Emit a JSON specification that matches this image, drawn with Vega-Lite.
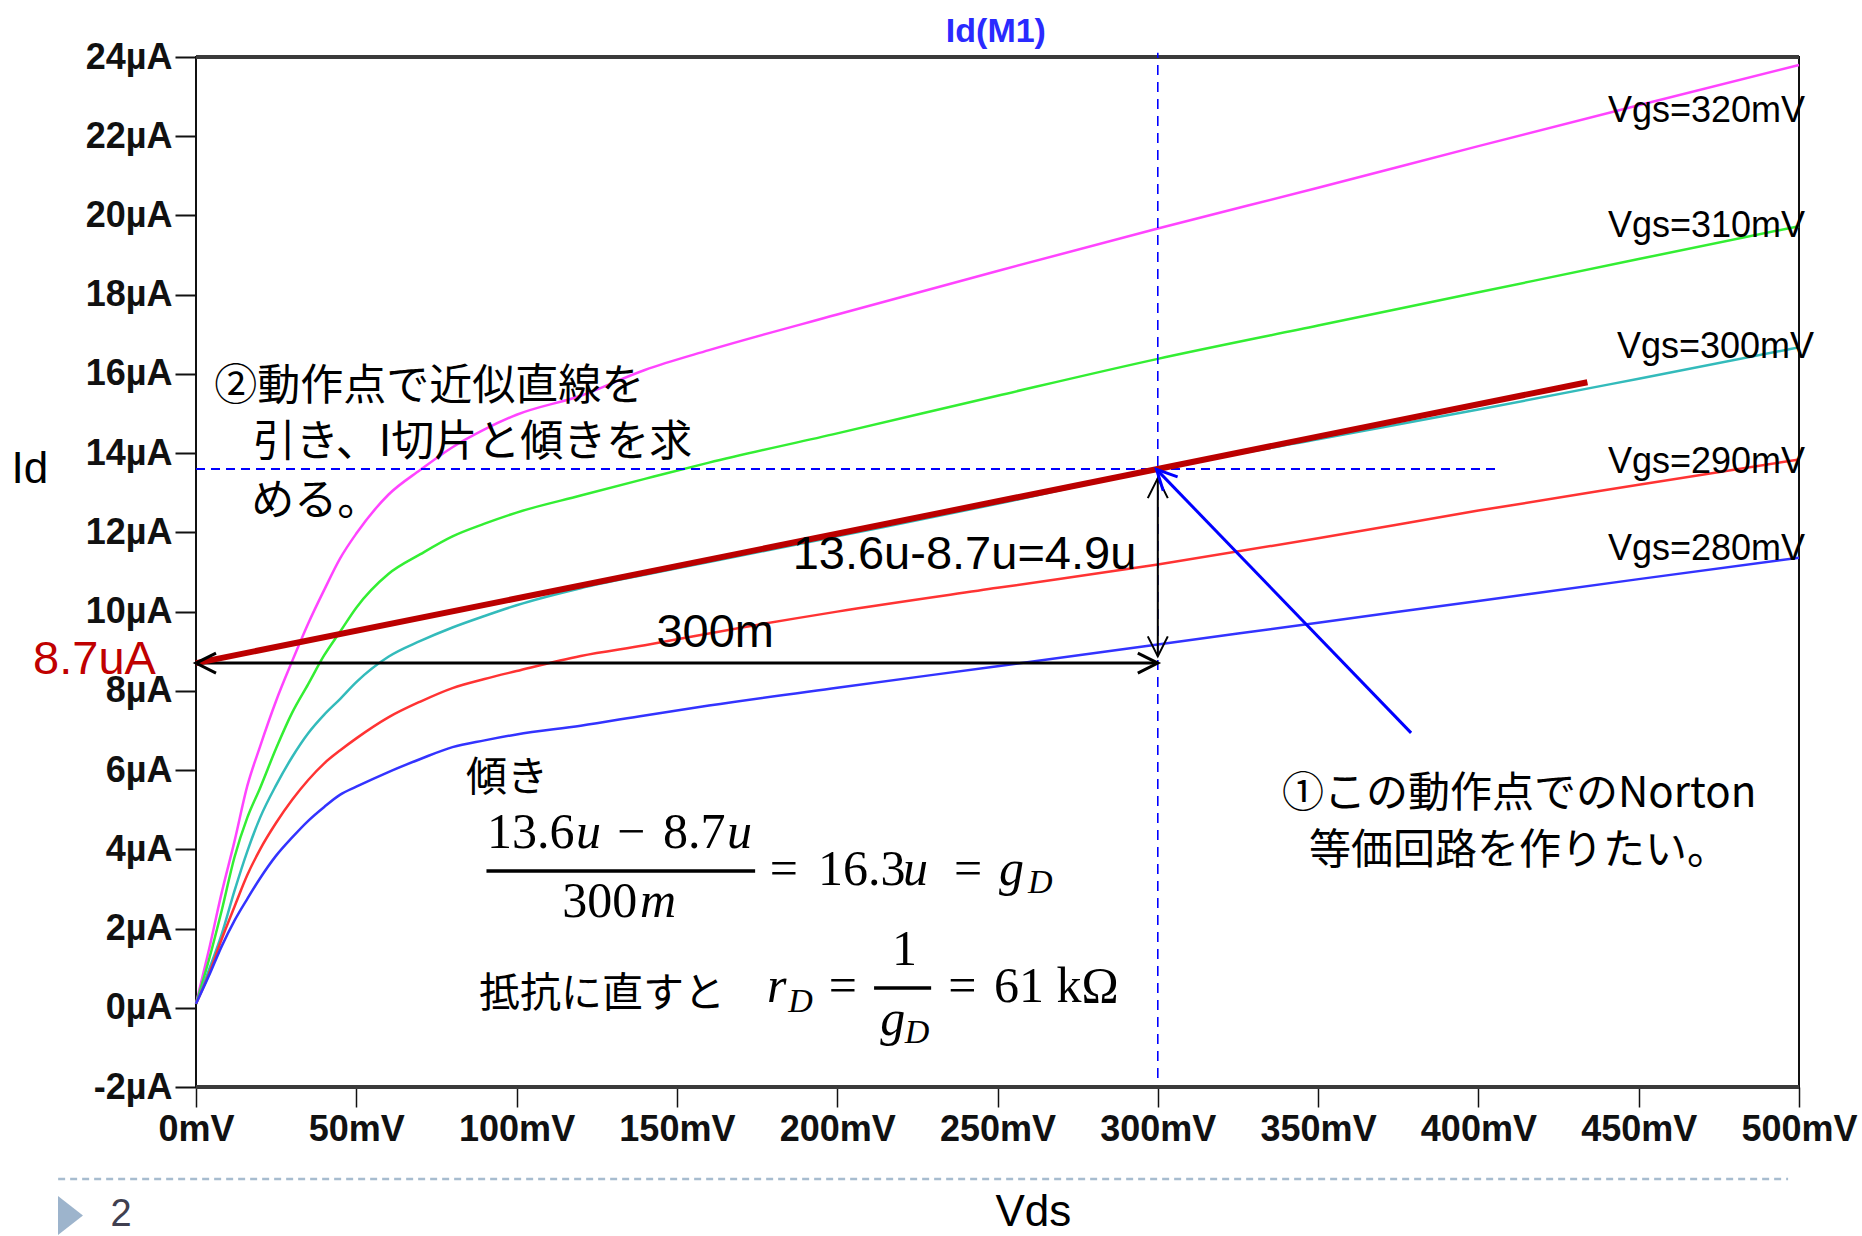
{
"$schema": "https://vega.github.io/schema/vega-lite/v6.json",
"width": 1603,
"height": 1030,
"autosize": {"type": "none"},
"padding": {"left": 196, "top": 57, "right": 63, "bottom": 149},
"background": "#ffffff",
"config": {
 "view": {"stroke": "#111111", "strokeWidth": 2},
 "axisX": {"grid": false, "domain": false, "tickSize": 20, "tickWidth": 1.5, "tickColor": "#111111", "labelFont": "Liberation Sans", "labelFontSize": 36, "labelFontWeight": "bold", "labelColor": "#111111", "labelPadding": 5, "labelFlush": false, "labelOverlap": false, "labelBound": false},
 "axisY": {"grid": false, "domain": false, "tickSize": 21, "tickWidth": 2, "tickColor": "#111111", "labelFont": "Liberation Sans", "labelFontSize": 36, "labelFontWeight": "bold", "labelColor": "#111111", "labelPadding": 3, "labelFlush": false, "labelOverlap": false, "labelBound": false}
},
"datasets": {
"curves": [
{"vgs":"320","vds":0,"id":0.1},{"vgs":"320","vds":4,"id":1.45},{"vgs":"320","vds":8,"id":2.9},{"vgs":"320","vds":12,"id":4.2},{"vgs":"320","vds":16,"id":5.6},{"vgs":"320","vds":20,"id":6.6},{"vgs":"320","vds":25,"id":7.75},{"vgs":"320","vds":30,"id":8.75},{"vgs":"320","vds":35,"id":9.7},{"vgs":"320","vds":40,"id":10.55},{"vgs":"320","vds":45,"id":11.35},{"vgs":"320","vds":50,"id":11.97},{"vgs":"320","vds":60,"id":12.95},{"vgs":"320","vds":70,"id":13.58},{"vgs":"320","vds":80,"id":14.15},{"vgs":"320","vds":90,"id":14.6},{"vgs":"320","vds":100,"id":14.97},{"vgs":"320","vds":120,"id":15.45},{"vgs":"320","vds":140,"id":16.1},{"vgs":"320","vds":160,"id":16.6},{"vgs":"320","vds":200,"id":17.5},{"vgs":"320","vds":250,"id":18.6},{"vgs":"320","vds":300,"id":19.67},{"vgs":"320","vds":350,"id":20.7},{"vgs":"320","vds":400,"id":21.75},{"vgs":"320","vds":450,"id":22.78},{"vgs":"320","vds":500,"id":23.8},
{"vgs":"310","vds":0,"id":0.1},{"vgs":"310","vds":4,"id":1.2},{"vgs":"310","vds":8,"id":2.45},{"vgs":"310","vds":12,"id":3.8},{"vgs":"310","vds":16,"id":4.8},{"vgs":"310","vds":20,"id":5.55},{"vgs":"310","vds":25,"id":6.55},{"vgs":"310","vds":30,"id":7.45},{"vgs":"310","vds":35,"id":8.17},{"vgs":"310","vds":40,"id":8.9},{"vgs":"310","vds":45,"id":9.5},{"vgs":"310","vds":50,"id":10.1},{"vgs":"310","vds":60,"id":10.95},{"vgs":"310","vds":70,"id":11.45},{"vgs":"310","vds":80,"id":11.9},{"vgs":"310","vds":90,"id":12.22},{"vgs":"310","vds":100,"id":12.5},{"vgs":"310","vds":120,"id":12.93},{"vgs":"310","vds":140,"id":13.35},{"vgs":"310","vds":160,"id":13.76},{"vgs":"310","vds":200,"id":14.5},{"vgs":"310","vds":250,"id":15.45},{"vgs":"310","vds":300,"id":16.38},{"vgs":"310","vds":350,"id":17.22},{"vgs":"310","vds":400,"id":18.06},{"vgs":"310","vds":450,"id":18.9},{"vgs":"310","vds":500,"id":19.73},
{"vgs":"300","vds":0,"id":0.1},{"vgs":"300","vds":4,"id":0.95},{"vgs":"300","vds":8,"id":1.85},{"vgs":"300","vds":12,"id":2.95},{"vgs":"300","vds":16,"id":3.95},{"vgs":"300","vds":20,"id":4.8},{"vgs":"300","vds":25,"id":5.62},{"vgs":"300","vds":30,"id":6.33},{"vgs":"300","vds":35,"id":6.93},{"vgs":"300","vds":40,"id":7.4},{"vgs":"300","vds":45,"id":7.8},{"vgs":"300","vds":50,"id":8.22},{"vgs":"300","vds":60,"id":8.86},{"vgs":"300","vds":70,"id":9.26},{"vgs":"300","vds":80,"id":9.6},{"vgs":"300","vds":90,"id":9.89},{"vgs":"300","vds":100,"id":10.16},{"vgs":"300","vds":120,"id":10.59},{"vgs":"300","vds":140,"id":10.93},{"vgs":"300","vds":160,"id":11.25},{"vgs":"300","vds":200,"id":11.9},{"vgs":"300","vds":250,"id":12.72},{"vgs":"300","vds":300,"id":13.6},{"vgs":"300","vds":350,"id":14.35},{"vgs":"300","vds":400,"id":15.1},{"vgs":"300","vds":450,"id":15.88},{"vgs":"300","vds":500,"id":16.67},
{"vgs":"290","vds":0,"id":0.1},{"vgs":"290","vds":4,"id":0.85},{"vgs":"290","vds":8,"id":1.73},{"vgs":"290","vds":12,"id":2.55},{"vgs":"290","vds":16,"id":3.35},{"vgs":"290","vds":20,"id":4.0},{"vgs":"290","vds":25,"id":4.67},{"vgs":"290","vds":30,"id":5.25},{"vgs":"290","vds":35,"id":5.75},{"vgs":"290","vds":40,"id":6.17},{"vgs":"290","vds":45,"id":6.5},{"vgs":"290","vds":50,"id":6.8},{"vgs":"290","vds":60,"id":7.33},{"vgs":"290","vds":70,"id":7.73},{"vgs":"290","vds":80,"id":8.07},{"vgs":"290","vds":90,"id":8.3},{"vgs":"290","vds":100,"id":8.5},{"vgs":"290","vds":120,"id":8.88},{"vgs":"290","vds":140,"id":9.15},{"vgs":"290","vds":160,"id":9.45},{"vgs":"290","vds":200,"id":10.0},{"vgs":"290","vds":250,"id":10.6},{"vgs":"290","vds":300,"id":11.19},{"vgs":"290","vds":350,"id":11.85},{"vgs":"290","vds":400,"id":12.55},{"vgs":"290","vds":450,"id":13.2},{"vgs":"290","vds":500,"id":13.84},
{"vgs":"280","vds":0,"id":0.1},{"vgs":"280","vds":4,"id":0.8},{"vgs":"280","vds":8,"id":1.55},{"vgs":"280","vds":12,"id":2.2},{"vgs":"280","vds":16,"id":2.75},{"vgs":"280","vds":20,"id":3.27},{"vgs":"280","vds":25,"id":3.84},{"vgs":"280","vds":30,"id":4.3},{"vgs":"280","vds":35,"id":4.72},{"vgs":"280","vds":40,"id":5.07},{"vgs":"280","vds":45,"id":5.38},{"vgs":"280","vds":50,"id":5.58},{"vgs":"280","vds":60,"id":5.95},{"vgs":"280","vds":70,"id":6.28},{"vgs":"280","vds":80,"id":6.58},{"vgs":"280","vds":90,"id":6.75},{"vgs":"280","vds":100,"id":6.9},{"vgs":"280","vds":120,"id":7.12},{"vgs":"280","vds":140,"id":7.38},{"vgs":"280","vds":160,"id":7.63},{"vgs":"280","vds":200,"id":8.08},{"vgs":"280","vds":250,"id":8.62},{"vgs":"280","vds":300,"id":9.17},{"vgs":"280","vds":350,"id":9.72},{"vgs":"280","vds":400,"id":10.27},{"vgs":"280","vds":450,"id":10.82},{"vgs":"280","vds":500,"id":11.36}
],
"frame": [{"id": 24}, {"id": -2}],
"vdash": [{"vds": 300, "id": -1.77, "id2": 24.11}],
"hdash": [{"vds": 0, "vds2": 405.8, "id": 13.6}],
"tangent": [{"vds": 0, "id": 8.7, "vds2": 434, "id2": 15.79}],
"harrow": [{"vds": 0, "vds2": 300, "id": 8.7}],
"varrow": [{"vds": 300, "id": 8.87, "id2": 13.37}],
"barrow": [{"vds": 379, "id": 6.94, "vds2": 299.6, "id2": 13.59}],
"headL": [{"vds": 0, "id": 8.7}],
"headR": [{"vds": 300, "id": 8.7}],
"headU": [{"vds": 300, "id": 13.37}],
"headD": [{"vds": 300, "id": 8.87}],
"headB": [{"vds": 299.6, "id": 13.59}],
"vgsLabels": [
{"vds": 440.4, "id": 22.63, "label": "Vgs=320mV"},
{"vds": 440.4, "id": 19.73, "label": "Vgs=310mV"},
{"vds": 443.2, "id": 16.67, "label": "Vgs=300mV"},
{"vds": 440.4, "id": 13.78, "label": "Vgs=290mV"},
{"vds": 440.4, "id": 11.57, "label": "Vgs=280mV"}
],
"bigText": [
{"vds": 186.1, "id": 11.42, "label": "13.6u-8.7u=4.9u"},
{"vds": 143.6, "id": 9.46, "label": "300m"}
],
"redText": [{"vds": -12.5, "id": 8.78, "label": "8.7uA"}],
"axisTitles": [
{"vds": -51.8, "id": 13.58, "label": "Id"},
{"vds": 261.2, "id": -5.19, "label": "Vds"}
],
"plotTitle": [{"vds": 249.5, "id": 24.64, "label": "Id(M1)"}],
"jp43": [
{"vds": 5.7, "id": 15.67, "label": "②動作点で近似直線を"},
{"vds": 17.7, "id": 14.25, "label": "引き、I切片と傾きを求"},
{"vds": 17.2, "id": 12.76, "label": "める。"}
],
"jp41": [
{"vds": 84.2, "id": 5.77, "label": "傾き"},
{"vds": 88.3, "id": 0.32, "label": "抵抗に直すと"}
],
"jpCenter": [
{"vds": 412.7, "id": 5.39, "label": "①この動作点でのNorton"},
{"vds": 412.7, "id": 3.96, "label": "等価回路を作りたい。"}
],
"mathN": [
{"vds": 90.8, "id": 4.04, "label": "13.6"},
{"vds": 131.3, "id": 4.04, "label": "−"},
{"vds": 145.7, "id": 4.04, "label": "8.7"},
{"vds": 114.2, "id": 2.3, "label": "300"},
{"vds": 179.0, "id": 3.11, "label": "="},
{"vds": 194.0, "id": 3.11, "label": "16.3"},
{"vds": 236.4, "id": 3.11, "label": "="},
{"vds": 197.4, "id": 0.15, "label": "="},
{"vds": 217.1, "id": 1.09, "label": "1"},
{"vds": 234.6, "id": 0.15, "label": "="},
{"vds": 248.9, "id": 0.15, "label": "61 kΩ"}
],
"mathI": [
{"vds": 118.5, "id": 4.04, "label": "u"},
{"vds": 165.6, "id": 4.04, "label": "u"},
{"vds": 138.5, "id": 2.3, "label": "m"},
{"vds": 220.5, "id": 3.11, "label": "u"},
{"vds": 250.5, "id": 3.11, "label": "g"},
{"vds": 178.1, "id": 0.15, "label": "r"},
{"vds": 213.4, "id": -0.68, "label": "g"}
],
"mathSub": [
{"vds": 259.5, "id": 2.9, "label": "D"},
{"vds": 184.7, "id": -0.1, "label": "D"},
{"vds": 221.1, "id": -0.88, "label": "D"}
],
"fracBars": [
{"vds": 90.6, "vds2": 174.4, "id": 3.455},
{"vds": 211.5, "vds2": 229.3, "id": 0.5}
],
"footLine": [{"vds": -43.0, "vds2": 496.6, "id": -4.32}],
"footTri": [{"vds": -39.15, "id": -5.245}],
"footNum": [{"vds": -23.4, "id": -5.23, "label": "2"}]
},
"layer": [
{"data": {"name": "curves"},
 "mark": {"type": "line", "strokeWidth": 2.5, "interpolate": "monotone"},
 "encoding": {
  "x": {"field": "vds", "type": "quantitative", "title": null,
   "scale": {"domain": [0, 500], "nice": false, "zero": false},
   "axis": {"values": [0,50,100,150,200,250,300,350,400,450,500], "labelExpr": "datum.value + 'mV'"}},
  "y": {"field": "id", "type": "quantitative", "title": null,
   "scale": {"domain": [-2, 24], "nice": false, "zero": false},
   "axis": {"values": [-2,0,2,4,6,8,10,12,14,16,18,20,22,24], "labelExpr": "datum.value + 'µA'"}},
  "color": {"field": "vgs", "type": "nominal", "legend": null,
   "scale": {"domain": ["280","290","300","310","320"], "range": ["#3333ff","#ff3333","#33bbbb","#33ee33","#ff44ff"]}}
 }},
{"data": {"name": "frame"}, "mark": {"type": "rule", "color": "#3a3a3a", "strokeWidth": 4},
 "encoding": {"y": {"field": "id", "type": "quantitative", "title": null}}},
{"data": {"name": "vdash"}, "mark": {"type": "rule", "color": "#0000ff", "strokeWidth": 1.6, "strokeDash": [10, 7]},
 "encoding": {"x": {"field": "vds", "type": "quantitative", "title": null}, "y": {"field": "id", "type": "quantitative", "title": null}, "y2": {"field": "id2"}}},
{"data": {"name": "hdash"}, "mark": {"type": "rule", "color": "#0000ff", "strokeWidth": 2.2, "strokeDash": [9, 6]},
 "encoding": {"x": {"field": "vds", "type": "quantitative", "title": null}, "x2": {"field": "vds2"}, "y": {"field": "id", "type": "quantitative", "title": null}}},
{"data": {"name": "harrow"}, "mark": {"type": "rule", "color": "#000000", "strokeWidth": 3},
 "encoding": {"x": {"field": "vds", "type": "quantitative", "title": null}, "x2": {"field": "vds2"}, "y": {"field": "id", "type": "quantitative", "title": null}}},
{"data": {"name": "varrow"}, "mark": {"type": "rule", "color": "#000000", "strokeWidth": 2},
 "encoding": {"x": {"field": "vds", "type": "quantitative", "title": null}, "y": {"field": "id", "type": "quantitative", "title": null}, "y2": {"field": "id2"}}},
{"data": {"name": "tangent"}, "mark": {"type": "rule", "color": "#bb0000", "strokeWidth": 6, "strokeCap": "butt"},
 "encoding": {"x": {"field": "vds", "type": "quantitative", "title": null}, "x2": {"field": "vds2"}, "y": {"field": "id", "type": "quantitative", "title": null}, "y2": {"field": "id2"}}},
{"data": {"name": "barrow"}, "mark": {"type": "rule", "color": "#0000ff", "strokeWidth": 3},
 "encoding": {"x": {"field": "vds", "type": "quantitative", "title": null}, "x2": {"field": "vds2"}, "y": {"field": "id", "type": "quantitative", "title": null}, "y2": {"field": "id2"}}},
{"data": {"name": "headL"}, "mark": {"type": "point", "shape": "M-2,-1L0,0L-2,1", "size": 400, "filled": false, "color": "#000000", "strokeWidth": 3, "opacity": 1, "angle": 180},
 "encoding": {"x": {"field": "vds", "type": "quantitative", "title": null}, "y": {"field": "id", "type": "quantitative", "title": null}}},
{"data": {"name": "headR"}, "mark": {"type": "point", "shape": "M-2,-1L0,0L-2,1", "size": 400, "filled": false, "color": "#000000", "strokeWidth": 3, "opacity": 1, "angle": 0},
 "encoding": {"x": {"field": "vds", "type": "quantitative", "title": null}, "y": {"field": "id", "type": "quantitative", "title": null}}},
{"data": {"name": "headU"}, "mark": {"type": "point", "shape": "M-2,-1L0,0L-2,1", "size": 400, "filled": false, "color": "#000000", "strokeWidth": 2, "opacity": 1, "angle": 270},
 "encoding": {"x": {"field": "vds", "type": "quantitative", "title": null}, "y": {"field": "id", "type": "quantitative", "title": null}}},
{"data": {"name": "headD"}, "mark": {"type": "point", "shape": "M-2,-1L0,0L-2,1", "size": 400, "filled": false, "color": "#000000", "strokeWidth": 2, "opacity": 1, "angle": 90},
 "encoding": {"x": {"field": "vds", "type": "quantitative", "title": null}, "y": {"field": "id", "type": "quantitative", "title": null}}},
{"data": {"name": "headB"}, "mark": {"type": "point", "shape": "M-2,-1L0,0L-2,1", "size": 400, "filled": false, "color": "#0000ff", "strokeWidth": 3, "opacity": 1, "angle": 226},
 "encoding": {"x": {"field": "vds", "type": "quantitative", "title": null}, "y": {"field": "id", "type": "quantitative", "title": null}}},
{"data": {"name": "fracBars"}, "mark": {"type": "rule", "color": "#000000", "strokeWidth": 3.5},
 "encoding": {"x": {"field": "vds", "type": "quantitative", "title": null}, "x2": {"field": "vds2"}, "y": {"field": "id", "type": "quantitative", "title": null}}},
{"data": {"name": "footLine"}, "mark": {"type": "rule", "color": "#a7bccf", "strokeWidth": 2.5, "strokeDash": [7, 5]},
 "encoding": {"x": {"field": "vds", "type": "quantitative", "title": null}, "x2": {"field": "vds2"}, "y": {"field": "id", "type": "quantitative", "title": null}}},
{"data": {"name": "footTri"}, "mark": {"type": "point", "shape": "M-0.64,-1L0.64,0L-0.64,1Z", "size": 1521, "filled": true, "color": "#9db4cc", "opacity": 1, "strokeWidth": 0},
 "encoding": {"x": {"field": "vds", "type": "quantitative", "title": null}, "y": {"field": "id", "type": "quantitative", "title": null}}},
{"data": {"name": "footNum"}, "mark": {"type": "text", "font": "Liberation Sans", "fontSize": 38, "color": "#404050", "align": "center", "baseline": "middle"},
 "encoding": {"x": {"field": "vds", "type": "quantitative", "title": null}, "y": {"field": "id", "type": "quantitative", "title": null}, "text": {"field": "label"}}},
{"data": {"name": "vgsLabels"}, "mark": {"type": "text", "font": "Liberation Sans", "fontSize": 36, "color": "#000000", "align": "left", "baseline": "middle"},
 "encoding": {"x": {"field": "vds", "type": "quantitative", "title": null}, "y": {"field": "id", "type": "quantitative", "title": null}, "text": {"field": "label"}}},
{"data": {"name": "bigText"}, "mark": {"type": "text", "font": "Liberation Sans", "fontSize": 47, "color": "#000000", "align": "left", "baseline": "middle"},
 "encoding": {"x": {"field": "vds", "type": "quantitative", "title": null}, "y": {"field": "id", "type": "quantitative", "title": null}, "text": {"field": "label"}}},
{"data": {"name": "redText"}, "mark": {"type": "text", "font": "Liberation Sans", "fontSize": 47, "color": "#c00000", "align": "right", "baseline": "middle"},
 "encoding": {"x": {"field": "vds", "type": "quantitative", "title": null}, "y": {"field": "id", "type": "quantitative", "title": null}, "text": {"field": "label"}}},
{"data": {"name": "axisTitles"}, "mark": {"type": "text", "font": "Liberation Sans", "fontSize": 44, "color": "#000000", "align": "center", "baseline": "middle"},
 "encoding": {"x": {"field": "vds", "type": "quantitative", "title": null}, "y": {"field": "id", "type": "quantitative", "title": null}, "text": {"field": "label"}}},
{"data": {"name": "plotTitle"}, "mark": {"type": "text", "font": "Liberation Sans", "fontSize": 34, "fontWeight": "bold", "color": "#2a2aff", "align": "center", "baseline": "middle"},
 "encoding": {"x": {"field": "vds", "type": "quantitative", "title": null}, "y": {"field": "id", "type": "quantitative", "title": null}, "text": {"field": "label"}}},
{"data": {"name": "jp43"}, "mark": {"type": "text", "font": "Noto Sans CJK JP", "fontSize": 43, "color": "#000000", "align": "left", "baseline": "middle"},
 "encoding": {"x": {"field": "vds", "type": "quantitative", "title": null}, "y": {"field": "id", "type": "quantitative", "title": null}, "text": {"field": "label"}}},
{"data": {"name": "jp41"}, "mark": {"type": "text", "font": "Noto Sans CJK JP", "fontSize": 41, "color": "#000000", "align": "left", "baseline": "middle"},
 "encoding": {"x": {"field": "vds", "type": "quantitative", "title": null}, "y": {"field": "id", "type": "quantitative", "title": null}, "text": {"field": "label"}}},
{"data": {"name": "jpCenter"}, "mark": {"type": "text", "font": "Noto Sans CJK JP", "fontSize": 42, "color": "#000000", "align": "center", "baseline": "middle"},
 "encoding": {"x": {"field": "vds", "type": "quantitative", "title": null}, "y": {"field": "id", "type": "quantitative", "title": null}, "text": {"field": "label"}}},
{"data": {"name": "mathN"}, "mark": {"type": "text", "font": "Liberation Serif", "fontSize": 50, "color": "#000000", "align": "left", "baseline": "alphabetic"},
 "encoding": {"x": {"field": "vds", "type": "quantitative", "title": null}, "y": {"field": "id", "type": "quantitative", "title": null}, "text": {"field": "label"}}},
{"data": {"name": "mathI"}, "mark": {"type": "text", "font": "Liberation Serif", "fontSize": 50, "fontStyle": "italic", "color": "#000000", "align": "left", "baseline": "alphabetic"},
 "encoding": {"x": {"field": "vds", "type": "quantitative", "title": null}, "y": {"field": "id", "type": "quantitative", "title": null}, "text": {"field": "label"}}},
{"data": {"name": "mathSub"}, "mark": {"type": "text", "font": "Liberation Serif", "fontSize": 34, "fontStyle": "italic", "color": "#000000", "align": "left", "baseline": "alphabetic"},
 "encoding": {"x": {"field": "vds", "type": "quantitative", "title": null}, "y": {"field": "id", "type": "quantitative", "title": null}, "text": {"field": "label"}}}
]
}
